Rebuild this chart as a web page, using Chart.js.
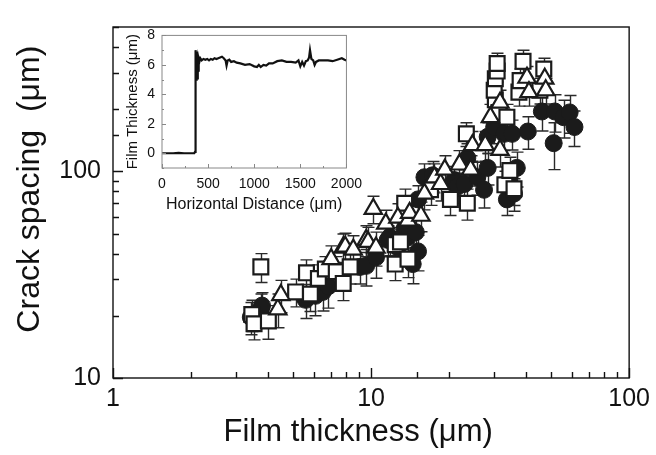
<!DOCTYPE html>
<html>
<head>
<meta charset="utf-8">
<script src="https://cdn.jsdelivr.net/npm/chart.js@4.4.0/dist/chart.umd.min.js"></script>
<style>
  body { margin: 0; background: #fff; }
  #wrap { position: relative; width: 656px; height: 455px; }
  #main { position: absolute; left: 0; top: 0; }
  #inset { position: absolute; left: 100px; top: 20px; }
</style>
</head>
<body>
<div id="wrap">
  <canvas id="main" width="656" height="455"></canvas>
  <canvas id="inset" width="270" height="200"></canvas>
</div>
<script>
// filled circles
const circleX = [3.42, 3.74, 3.78, 5.58, 6.09, 6.5, 6.83, 9.07, 9.57, 10.45, 11.6, 11.8, 12.7, 13.5, 13.9, 14.5, 14.9, 15.2, 15.2, 16.1, 17.3, 21.0, 21.5, 23.0, 23.6, 25.8, 27.4, 28.3, 28.3, 30.0, 32.8, 33.6, 34.5, 35.2, 35.8, 36.7, 40.5, 45.9, 51.0, 51.5, 55.7, 58.8, 61.4]
const circleY = [19.7, 21.5, 22.4, 23.9, 25.0, 26.1, 27.8, 34.5, 34.9, 38.4, 46.6, 48.1, 42.8, 53.0, 48.1, 35.6, 50.8, 41.0, 73.2, 93.7, 95.7, 90.8, 84, 86.9, 116, 93.7, 81.5, 104, 147, 164, 152, 73.2, 86.9, 152, 78.1, 104, 156, 195, 137, 195, 183, 193, 164]
const circleErr = [3.5, 4, 3.5, 4.5, 5, 5, 6, 6, 7, 8, 8, 9, 8, 9, 10, 7, 9, 8, 12, 15, 16, 15, 14, 15, 20, 17, 15, 18, 25, 28, 26, 12, 15, 25, 14, 20, 28, 38, 35, 40, 38, 40, 32]

// open squares
const squareX = [3.74, 3.45, 3.52, 4.0, 5.10, 5.62, 5.82, 6.25, 6.65, 7.33, 7.8, 8.30, 12.4, 12.4, 13.0, 13.9, 13.5, 17.0, 20.3, 23.6, 23.4, 30.3, 30.0, 30.3, 30.8, 30.8, 31.3, 33.6, 33.0, 34.5, 35.8, 37.4, 37.8, 38.8, 45.1, 46.7]
const squareY = [34.5, 20.3, 18.3, 18.9, 26.1, 32.3, 25.5, 30.3, 33.7, 32.7, 28.7, 34.5, 35.6, 44.2, 45.6, 37.6, 70.1, 81.5, 73.2, 70.1, 152, 222, 247, 281, 306, 333, 193, 183, 86.1, 101, 82.4, 242, 275, 341, 247, 313]
const squareErr = [5.5, 3.5, 3, 3.5, 4, 5, 4.5, 5, 5, 6, 5, 6, 6, 7, 8, 7, 12, 13, 12, 12, 20, 30, 30, 35, 35, 40, 28, 28, 14, 16, 14, 35, 38, 45, 35, 40]

// open triangles
const triangleX = [4.35, 4.47, 7.0, 7.8, 7.94, 8.53, 9.57, 9.73, 10.2, 10.45, 11.4, 12.7, 13.9, 14.1, 15.6, 16.1, 17.6, 18.6, 19.3, 22.0, 24.3, 24.7, 27.7, 31.6, 29.0, 31.6, 40.2, 40.9, 47.1, 47.5]
const triangleY = [21.5, 25.2, 37.6, 42.8, 43.2, 41.8, 46.6, 45.6, 65.8, 42.8, 55.9, 59.7, 57.8, 63.0, 61.0, 78.1, 93.7, 86.9, 102, 108, 102, 134, 134, 127, 183, 215, 284, 242, 281, 247]
const triangleErr = [4, 4.5, 6, 7, 7, 7, 8, 8, 10, 8, 9, 10, 10, 11, 10, 13, 15, 15, 17, 18, 17, 22, 22, 22, 28, 32, 38, 35, 38, 35]

// inset profile
const insetDistance = [0, 60, 120, 180, 240, 300, 350, 358, 362, 366, 370, 374, 378, 382, 386, 390, 394, 398, 405, 415, 430, 450, 470, 490, 510, 530, 550, 570, 590, 610, 630, 650, 670, 690, 700, 712, 730, 750, 780, 810, 850, 900, 950, 1000, 1030, 1050, 1070, 1100, 1130, 1160, 1200, 1250, 1300, 1350, 1400, 1450, 1480, 1500, 1520, 1540, 1560, 1580, 1595, 1605, 1620, 1640, 1655, 1670, 1700, 1750, 1800, 1850, 1900, 1950, 1980, 2000]
const insetThickness = [0, 0, 0, 0.02, 0, 0, 0, 0.1, 3.5, 7.0, 5.0, 6.9, 5.2, 6.7, 5.0, 6.6, 5.6, 6.4, 6.2, 6.45, 6.3, 6.4, 6.35, 6.4, 6.3, 6.4, 6.35, 6.45, 6.4, 6.45, 6.5, 6.55, 6.45, 6.3, 5.95, 6.3, 6.35, 6.2, 6.25, 6.15, 6.1, 6.0, 6.05, 5.9, 5.85, 6.0, 5.85, 6.0, 5.95, 6.1, 6.1, 6.25, 6.3, 6.2, 6.2, 6.15, 6.3, 5.9, 6.2, 5.95, 6.25, 6.3, 6.5, 7.0, 6.4, 6.3, 6.0, 6.2, 6.3, 6.3, 6.3, 6.25, 6.35, 6.45, 6.35, 6.3]

const FONT = '"Liberation Sans", Arial, Helvetica, sans-serif'
const INK = '#1b1b1b'

function toPoints(xs, ys) {
    return xs.map((x, i) => ({ x: x, y: ys[i] }))
}

// box + ticks pointing into the plot
function makeFrame(isMajorX, isMajorY, major, minor, color, width) {
    return {
        id: 'frame',
        afterDraw(chart) {
            const { ctx, chartArea: a, scales } = chart
            ctx.save()
            ctx.strokeStyle = color
            ctx.lineWidth = width
            ctx.strokeRect(a.left, a.top, a.right - a.left, a.bottom - a.top)
            ctx.beginPath()
            scales.x.ticks.forEach(t => {
                const px = Math.round(scales.x.getPixelForValue(t.value)) + 0.5
                const len = isMajorX(t.value) ? major : minor
                ctx.moveTo(px, a.bottom)
                ctx.lineTo(px, a.bottom - len)
            })
            scales.y.ticks.forEach(t => {
                const py = Math.round(scales.y.getPixelForValue(t.value)) + 0.5
                const len = isMajorY(t.value) ? major : minor
                ctx.moveTo(a.left, py)
                ctx.lineTo(a.left + len, py)
            })
            ctx.stroke()
            ctx.restore()
        }
    }
}

const isDecade = v => Math.abs(Math.log10(v) - Math.round(Math.log10(v))) < 1e-6

// vertical error bars with caps, behind the markers
const errorBars = {
    id: 'errorBars',
    beforeDatasetsDraw(chart) {
        const { ctx, scales } = chart
        ctx.save()
        ctx.strokeStyle = '#2a2a2a'
        ctx.lineWidth = 1.4
        chart.data.datasets.forEach((ds, di) => {
            const meta = chart.getDatasetMeta(di)
            meta.data.forEach((pt, i) => {
                const v = ds.data[i].y
                const e = ds.errors[i]
                const yTop = scales.y.getPixelForValue(v + e)
                const yBot = scales.y.getPixelForValue(Math.max(v - e, 10.01))
                const x = Math.round(pt.x) + 0.5
                ctx.beginPath()
                ctx.moveTo(x, yTop)
                ctx.lineTo(x, yBot)
                ctx.moveTo(x - 6, yTop)
                ctx.lineTo(x + 6, yTop)
                ctx.moveTo(x - 6, yBot)
                ctx.lineTo(x + 6, yBot)
                ctx.stroke()
            })
        })
        ctx.restore()
    }
}

new Chart(document.getElementById('main'), {
    type: 'scatter',
    data: {
        datasets: [
            {
                label: 'triangles',
                data: toPoints(triangleX, triangleY),
                errors: triangleErr,
                pointStyle: 'triangle',
                pointRadius: 10,
                backgroundColor: '#fff',
                borderColor: INK,
                borderWidth: 2.2
            },
            {
                label: 'squares',
                data: toPoints(squareX, squareY),
                errors: squareErr,
                pointStyle: 'rect',
                pointRadius: 10.5,
                backgroundColor: '#fff',
                borderColor: INK,
                borderWidth: 2.2
            },
            {
                label: 'circles',
                data: toPoints(circleX, circleY),
                errors: circleErr,
                pointStyle: 'circle',
                pointRadius: 8.5,
                backgroundColor: INK,
                borderColor: INK,
                borderWidth: 1
            }
        ]
    },
    options: {
        responsive: false,
        animation: false,
        events: [],
        layout: { padding: { left: 0, top: 15, right: 23, bottom: 0 } },
        plugins: { legend: { display: false }, tooltip: { enabled: false } },
        scales: {
            x: {
                type: 'logarithmic',
                min: 1,
                max: 100,
                grid: { display: false, drawTicks: false },
                border: { display: false },
                afterFit: s => { s.height = 77 },
                ticks: {
                    autoSkip: false,
                    maxRotation: 0,
                    padding: 6,
                    color: '#111',
                    font: { family: FONT, size: 25 },
                    callback: v => isDecade(v) ? String(v) : ''
                },
                title: {
                    display: true,
                    // trailing spaces nudge the centred title a little left, as in the figure
                    text: 'Film thickness (μm)   ',
                    color: '#111',
                    font: { family: FONT, size: 31 },
                    padding: { top: 0, bottom: 4 }
                }
            },
            y: {
                type: 'logarithmic',
                min: 10,
                max: 500,
                grid: { display: false, drawTicks: false },
                border: { display: false },
                afterFit: s => { s.width = 113 },
                ticks: {
                    autoSkip: false,
                    padding: 12,
                    color: '#111',
                    font: { family: FONT, size: 25 },
                    callback: v => isDecade(v) ? String(v) : ''
                },
                title: {
                    display: true,
                    text: '   Crack spacing  (μm)',
                    color: '#111',
                    font: { family: FONT, size: 32 },
                    padding: { top: 11, bottom: 0 }
                }
            }
        }
    },
    plugins: [errorBars, makeFrame(isDecade, isDecade, 10, 6, '#111', 1.4)]
})

// inset: film thickness profile
new Chart(document.getElementById('inset'), {
    type: 'scatter',
    data: {
        datasets: [{
            data: toPoints(insetDistance, insetThickness),
            showLine: true,
            pointRadius: 0,
            borderColor: '#111',
            borderWidth: 2.2,
            tension: 0
        }]
    },
    options: {
        responsive: false,
        animation: false,
        events: [],
        layout: { padding: { left: 0, top: 15, right: 20, bottom: 0 } },
        plugins: { legend: { display: false }, tooltip: { enabled: false } },
        scales: {
            x: {
                type: 'linear',
                min: 0,
                max: 2000,
                grid: { display: false, drawTicks: false },
                border: { display: false },
                afterFit: s => { s.height = 52 },
                ticks: {
                    stepSize: 250,
                    autoSkip: false,
                    maxRotation: 0,
                    padding: 8,
                    color: '#111',
                    font: { family: FONT, size: 14 },
                    callback: v => v % 500 === 0 ? String(v) : ''
                },
                title: {
                    display: true,
                    text: 'Horizontal Distance (μm)',
                    color: '#111',
                    font: { family: FONT, size: 16 },
                    padding: { top: 0, bottom: 6 }
                }
            },
            y: {
                type: 'linear',
                min: -1,
                max: 8,
                grid: { display: false, drawTicks: false },
                border: { display: false },
                afterFit: s => { s.width = 62 },
                ticks: {
                    stepSize: 1,
                    autoSkip: false,
                    padding: 7,
                    color: '#111',
                    font: { family: FONT, size: 14 },
                    callback: v => (v >= 0 && v % 2 === 0) ? String(v) : ''
                },
                title: {
                    display: true,
                    text: 'Film Thickness (μm)',
                    color: '#111',
                    font: { family: FONT, size: 15 },
                    padding: { top: 24, bottom: 0 }
                }
            }
        }
    },
    plugins: [makeFrame(v => v % 500 === 0, v => v % 2 === 0, 4, 2, '#888', 1)]
})
</script>
</body>
</html>
